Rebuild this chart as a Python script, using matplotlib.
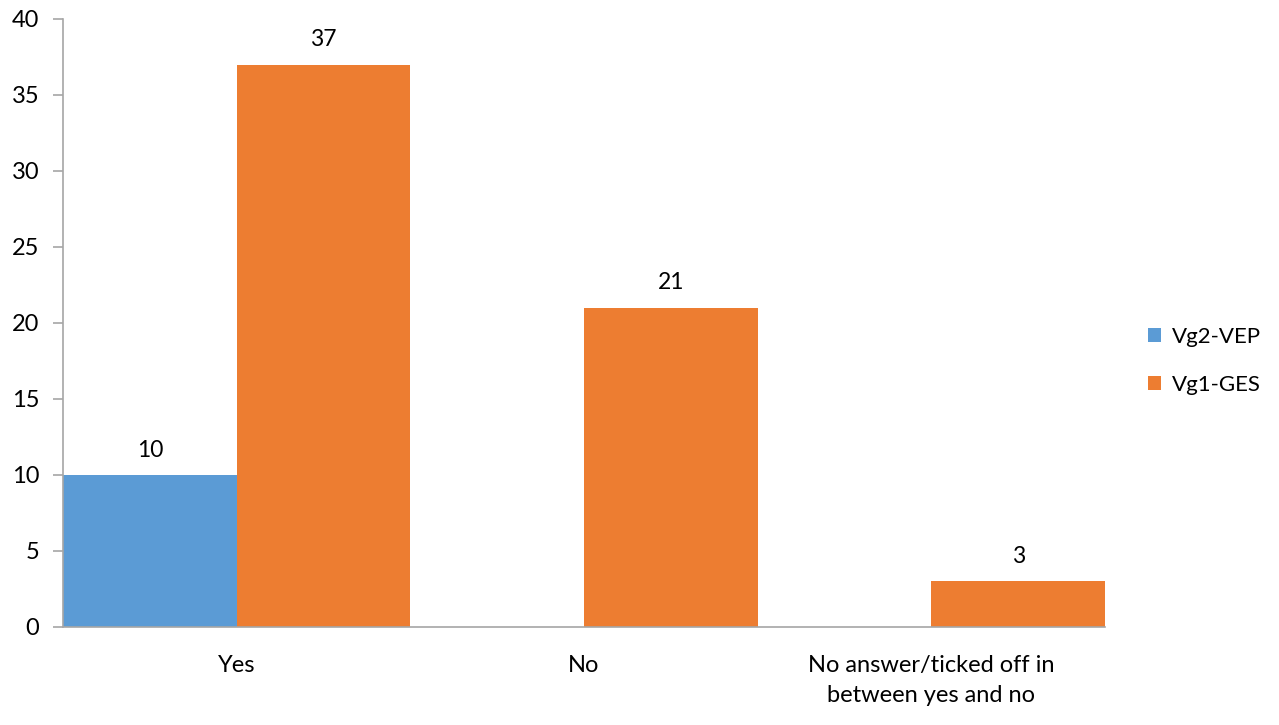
import numpy as np
import matplotlib.pyplot as plt

plt.rcParams['font.family'] = ['Lato', 'DejaVu Sans']

categories = ['Yes', 'No', 'No answer/ticked off in\nbetween yes and no']
vep = [10, 0, 0]
ges = [37, 21, 3]

blue = '#5B9BD5'
orange = '#ED7D31'
grey = '#A6A6A6'

fig = plt.figure(figsize=(12.79, 7.25), dpi=100)
ax = fig.add_axes([0.0493, 0.1352, 0.8147, 0.8386])

x = np.arange(len(categories))
w = 0.5
b1 = ax.bar(x - w / 2, vep, w, color=blue, label='Vg2-VEP')
b2 = ax.bar(x + w / 2, ges, w, color=orange, label='Vg1-GES')

# value labels, skip empty bars
for bars, vals in ((b1, vep), (b2, ges)):
    for r, v in zip(bars, vals):
        if v:
            ax.text(r.get_x() + r.get_width() / 2, v + 0.95, str(v),
                    ha='center', va='bottom', fontsize=16.5)

ax.set_xlim(-0.5, len(categories) - 0.5)
ax.set_ylim(0, 40)
ax.set_yticks(range(0, 41, 5))
ax.set_xticks(x)
ax.set_xticklabels(categories, fontsize=17, linespacing=1.55)
ax.tick_params(axis='y', labelsize=17, length=7, color=grey, width=1.2, pad=10)
ax.tick_params(axis='x', length=0, pad=20)

for s in ('top', 'right'):
    ax.spines[s].set_visible(False)
for s in ('left', 'bottom'):
    ax.spines[s].set_color(grey)
    ax.spines[s].set_linewidth(1.2)

ax.legend(loc='center left', bbox_to_anchor=(1.022, 0.438), frameon=False,
          fontsize=16, handlelength=0.6, handleheight=0.6, handletextpad=0.5,
          labelspacing=1.25)

fig.savefig('out.png', dpi=100)
